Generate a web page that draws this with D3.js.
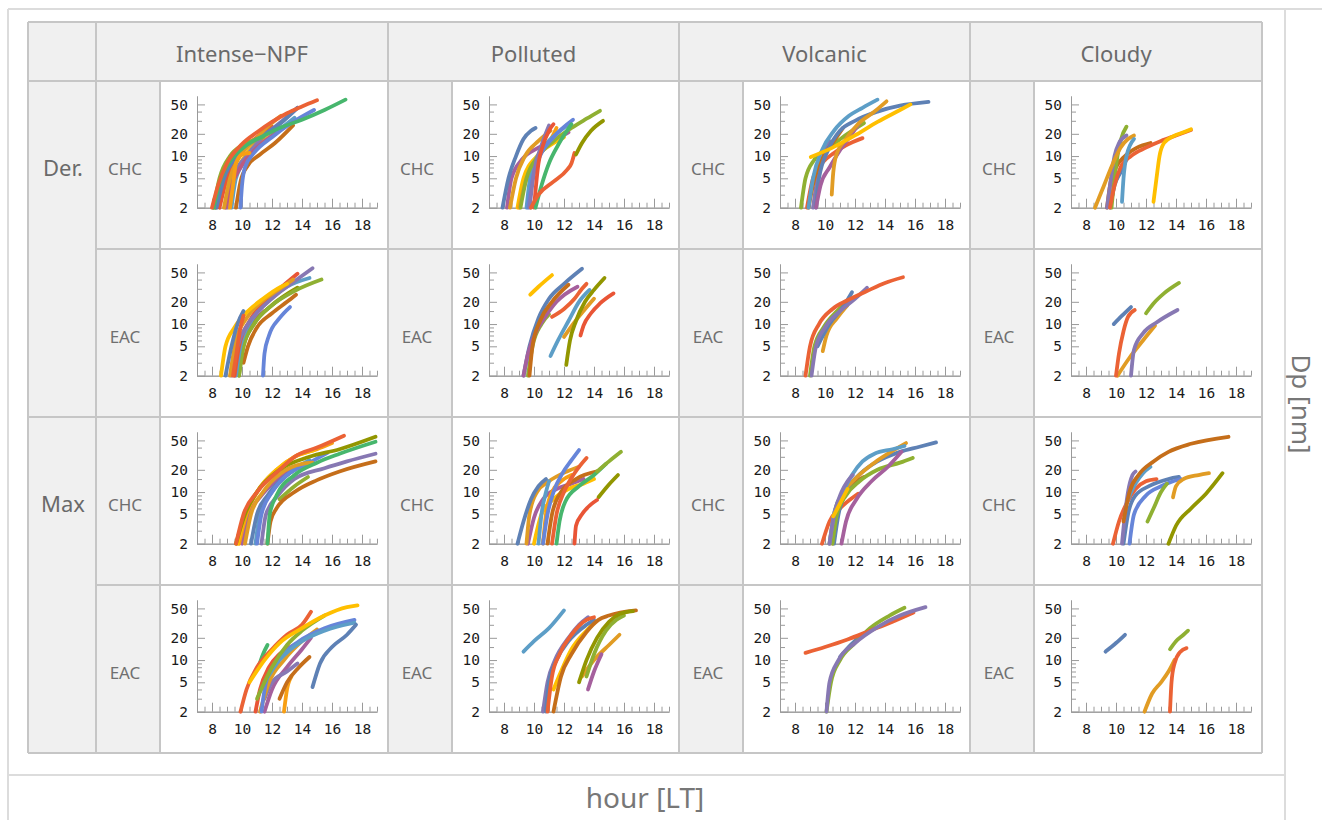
<!DOCTYPE html>
<html><head><meta charset="utf-8">
<script src="https://cdn.jsdelivr.net/npm/d3@7"></script>
<style>body{margin:0;background:#fff}svg{display:block}</style>
</head><body><svg id="c" width="1322" height="820"></svg>
<script>
// ---------- data ----------
const categories = ["Intense\u2212NPF","Polluted","Volcanic","Cloudy"];
const methods = ["Der.","Max"];
const sites = ["CHC","EAC"];
const hourTicks = [8,10,12,14,16,18];
const dpTicks = [2,5,10,20,50];
const dpMinor = [3,4,6,7,8,9,15,30,40];
const xLabel = "hour [LT]";
const yLabel = "Dp [nm]";
// each curve: ev = event/series number, p = [hour, Dp nm]
const intenseDerCHC = [
 {ev:10,p:[[8.2,2],[8.7,5],[9.5,10],[10.5,15],[11.5,20]]},
 {ev:11,p:[[8.5,2],[9,5],[9.8,10],[11,18],[12,25]]},
 {ev:8,p:[[9.1,2],[9.5,5],[10.2,10],[11.2,16],[12,22]]},
 {ev:7,p:[[9.3,2],[9.6,5],[10.3,9],[11.4,15],[12.4,22],[13.5,33]]},
 {ev:5,p:[[9.0,2],[9.4,5],[10.3,10],[11.5,19],[12.7,30],[13.7,45]]},
 {ev:14,p:[[8.9,2],[9.3,4],[9.9,7],[11,13],[12.2,20]]},
 {ev:6,p:[[9.6,2],[9.9,4.5],[10.4,7.5],[11.2,10.5],[12.2,15],[13.4,26]]},
 {ev:1,p:[[8.3,2],[8.8,5],[9.7,10],[11,17],[12.5,27],[13.7,45]]},
 {ev:12,p:[[9.9,2],[10.0,4],[10.2,7],[10.8,11],[12,18],[13.3,28],[14.8,42]]},
 {ev:2,p:[[8.8,2],[9.2,5],[9.8,9.5],[10.8,16],[11.8,26],[12.6,35]]},
 {ev:13,p:[[9.2,2],[9.4,4],[9.6,8],[10.0,10.5],[10.5,11]]},
 {ev:3,p:[[8.1,2],[8.5,5],[9.2,10],[10,14],[11,17],[11.4,18]]},
 {ev:15,p:[[8.1,2],[8.6,5],[9.3,9],[10.3,14],[11.5,19],[12.5,24],[14,31],[15.5,42],[16.9,58]]},
 {ev:4,p:[[8,2],[8.4,4],[9,8],[10,14.5],[11,21],[12,29],[13,38],[14,47],[15,57]]}
];
const pollutedDerCHC = [
 {ev:9,p:[[8.2,2],[8.5,5],[9.2,9],[10.3,13],[11.5,17],[12.3,21]]},
 {ev:2,p:[[8.4,2],[8.8,5],[9.4,10],[10.3,16],[11.1,22]]},
 {ev:8,p:[[8.9,2],[9.3,5],[10.2,10],[11.3,15],[12,18]]},
 {ev:13,p:[[9,2],[9.5,5],[10.3,10],[11.2,18],[11.5,24]]},
 {ev:7,p:[[9.5,2],[9.8,6],[10.5,12],[11.5,20],[12.2,26]]},
 {ev:3,p:[[9.1,2],[9.5,5],[10.3,10],[11.3,16],[12.5,24],[13.5,32],[14.4,41]]},
 {ev:12,p:[[9.6,2],[9.9,5],[10.4,10],[11.3,18],[12.6,31]]},
 {ev:5,p:[[9.7,2],[10,6],[10.5,14],[11,26]]},
 {ev:11,p:[[10,2],[10.3,8],[10.6,14],[11.0,22],[11.3,27]]},
 {ev:1,p:[[7.9,2],[8.3,5],[8.8,10],[9.3,17],[9.8,22],[10.1,24]]},
 {ev:15,p:[[10.1,2],[10.5,4],[11,8],[11.6,14],[12.5,27]]},
 {ev:4,p:[[9.8,2],[10.3,3],[11.3,4.5],[12.2,6.5],[12.5,8],[12.7,11]]},
 {ev:10,p:[[12.8,10.5],[13.2,15],[13.8,22],[14.6,30]]}
];
const volcanicDerCHC = [
 {ev:3,p:[[8.4,2],[8.7,5],[9.3,9],[10.3,13],[11.5,20],[12.6,28]]},
 {ev:5,p:[[9.2,2],[9.5,5],[9.9,10],[10.3,16]]},
 {ev:4,p:[[8.8,2],[9.2,5],[9.8,8],[10.6,11],[11.4,14],[12.5,17.5]]},
 {ev:6,p:[[8.9,2],[9.3,5],[9.9,10],[10.5,15],[11.2,24]]},
 {ev:7,p:[[8.9,2],[9.2,5],[9.8,12],[10.6,22],[11.6,35],[12.5,45],[13.5,58]]},
 {ev:1,p:[[9.4,2],[9.6,5],[10.2,12],[11,22],[12,30],[13.5,40],[15,48],[16.9,54]]},
 {ev:9,p:[[9.4,2],[9.7,4],[10.3,7],[11,12],[11.8,20],[12.3,28]]},
 {ev:2,p:[[10.45,3],[10.55,6],[10.8,11],[11.3,16],[12.2,27],[13.3,40],[14.1,55]]},
 {ev:8,p:[[9.05,9.7],[10.5,13],[12,19],[13.5,29],[15,42],[15.7,50]]}
];
const cloudyDerCHC = [
 {ev:1,p:[[9.6,2],[9.9,4],[10.3,6],[10.7,9]]},
 {ev:6,p:[[9.4,2],[9.6,4],[10,7],[10.6,10],[11.4,13],[12.3,15]]},
 {ev:3,p:[[9.7,2],[9.9,5],[10.1,10],[10.3,16],[10.7,25]]},
 {ev:5,p:[[9.4,2],[9.6,4],[9.9,10],[10.2,15],[10.7,19]]},
 {ev:2,p:[[8.6,2],[9.2,4],[9.8,8],[10.3,13],[10.8,17],[11.2,19]]},
 {ev:4,p:[[9.6,2],[9.9,4],[10.3,7],[11,10],[12,13],[13,16],[14,19],[15,22.5]]},
 {ev:7,p:[[10.4,2.4],[10.5,5],[10.7,10],[11.2,17]]},
 {ev:8,p:[[12.5,2.4],[12.7,5],[12.9,10],[13.2,15],[13.8,18.5],[14.5,21],[15,23]]}
];
const intenseDerEAC = [
 {ev:9,p:[[9.5,2],[9.9,5],[10.5,9],[11.5,15]]},
 {ev:10,p:[[9.8,2],[10.1,5],[10.8,10],[12,18],[13.7,31]]},
 {ev:6,p:[[10.1,3],[10.4,5],[11,9],[12,14],[13,20],[13.6,25]]},
 {ev:3,p:[[9.8,2],[10.1,5],[10.8,10],[12,18],[13.5,28],[15.3,40]]},
 {ev:7,p:[[9.6,2],[9.9,5],[10.6,11],[11.7,20],[13,32],[14.5,42]]},
 {ev:11,p:[[9.5,2],[9.8,5],[10.5,11],[11.5,20],[12.5,30],[13.7,48]]},
 {ev:5,p:[[9.3,2],[9.7,5],[10.4,10],[11.5,18],[12.5,27],[13.5,38],[14.7,57]]},
 {ev:2,p:[[9.2,2],[9.6,6],[10.3,12],[11.3,20],[12.3,28],[13.4,40]]},
 {ev:8,p:[[8.6,2],[8.9,5],[9.5,9],[10.4,15],[11.4,22],[12.6,32],[13,35]]},
 {ev:1,p:[[8.9,2],[9.3,5],[9.7,10],[10.1,15]]},
 {ev:4,p:[[9.4,2],[9.7,5],[9.9,9],[10.1,13]]},
 {ev:12,p:[[11.4,2],[11.5,4],[11.8,7],[12.5,12],[13.2,17]]}
];
const pollutedDerEAC = [
 {ev:3,p:[[9.6,2],[9.9,5],[10.5,10],[11,13.5]]},
 {ev:1,p:[[9.3,2],[9.7,5],[10.3,12],[11,22],[12,35],[13.2,56]]},
 {ev:9,p:[[9.3,2],[9.6,4],[10.3,9],[10.8,13],[11.5,20],[12.9,32]]},
 {ev:6,p:[[9.7,2],[9.9,5],[10.4,11],[11.2,20],[12.3,34]]},
 {ev:8,p:[[9.75,25],[10.3,32],[11.2,46]]},
 {ev:4,p:[[11.2,12.5],[12,16],[12.7,22],[13.2,30],[13.5,35]]},
 {ev:7,p:[[11.1,3.7],[11.6,6],[12.3,11],[13,20],[13.7,29]]},
 {ev:2,p:[[12,6.7],[12.6,10],[13.3,15],[14,22]]},
 {ev:10,p:[[12.15,2.8],[12.4,6],[12.8,11],[13.4,20],[14,29],[14.7,42]]},
 {ev:11,p:[[13.1,7],[13.3,9.5],[13.8,14],[14.4,19],[15.3,26]]}
];
const volcanicDerEAC = [
 {ev:3,p:[[9,2],[9.3,5],[9.9,9],[10.8,15],[11.6,21]]},
 {ev:2,p:[[9.85,4.3],[10.1,7],[10.8,12],[11.5,18]]},
 {ev:1,p:[[9.5,5],[10.3,10],[11.2,17],[11.8,27]]},
 {ev:5,p:[[9.1,2],[9.4,5],[10,9],[11,15],[12,22],[12.8,31]]},
 {ev:4,p:[[8.7,2],[9,5],[9.6,10],[10.5,16],[11.5,21],[12.8,28],[14,36],[15.2,43]]}
];
const cloudyDerEAC = [
 {ev:1,p:[[9.85,10],[10.4,13],[11.0,17]]},
 {ev:2,p:[[10.1,2],[10.9,3.5],[11.8,6],[12.6,9.5]]},
 {ev:4,p:[[10.0,2],[10.2,4],[10.5,8],[10.8,12.5],[11.25,15.5]]},
 {ev:5,p:[[11.0,2],[11.2,4.5],[11.8,7.5],[12.7,10.5],[14.1,15.5]]},
 {ev:3,p:[[12,14],[12.5,19],[13.2,26],[14.2,36]]}
];
const intenseMaxCHC = [
 {ev:9,p:[[10,2],[10.5,5],[11.3,9],[12.4,15],[13.5,22]]},
 {ev:7,p:[[10.9,2],[11.2,5],[12,10],[13.3,19],[14.5,27]]},
 {ev:1,p:[[10.6,2],[11,5],[11.7,9],[13,17],[14.5,25]]},
 {ev:12,p:[[11,2],[11.3,5],[12,10],[13,17],[14.5,25],[15.7,34]]},
 {ev:13,p:[[9.8,2],[10.3,5],[11,10],[12.3,20],[13.5,30],[15,38],[16,46]]},
 {ev:8,p:[[9.7,2],[10.2,5],[11,10],[12.3,20],[13.5,30],[14.8,37]]},
 {ev:2,p:[[10.2,2],[10.6,5],[11.4,10],[12.6,18],[14,24],[14.7,25]]},
 {ev:3,p:[[12.5,8],[13.5,12],[14.4,16]]},
 {ev:6,p:[[11.7,2],[11.9,4],[12.3,6],[13.5,10],[15,14.5],[16.5,19],[18.9,26]]},
 {ev:5,p:[[11.3,2],[11.6,5],[12.4,9],[13.5,15],[15.5,21],[17,26],[18.9,33]]},
 {ev:15,p:[[11.7,2],[11.85,5],[12.3,9],[13.5,17],[15,25],[16.5,33],[18.9,48]]},
 {ev:10,p:[[9.6,2],[10.2,5],[11,10],[12.5,20],[14.5,30],[16.5,38],[18.9,56]]},
 {ev:4,p:[[9.6,2],[10.1,5],[11,10],[12.5,20],[13.5,30],[15,40],[16.8,58]]}
];
const pollutedMaxCHC = [
 {ev:9,p:[[9.6,2],[10,4.5],[10.6,8],[11.5,11],[12.5,13],[13.3,15]]},
 {ev:2,p:[[9.5,2],[9.7,5],[10.2,10],[11,14],[12.2,19],[13,22]]},
 {ev:8,p:[[10,2],[10.5,5],[11.3,8],[12.3,11],[13.3,13],[14,15]]},
 {ev:7,p:[[10.3,2],[10.5,5],[10.8,10],[11,14]]},
 {ev:13,p:[[10.6,2],[10.8,5],[11.2,10],[11.8,14],[12.5,17]]},
 {ev:6,p:[[10.9,2],[11.2,5],[11.8,10],[12.8,15],[14.2,19]]},
 {ev:1,p:[[8.9,2],[9.3,4],[9.8,8],[10.3,12],[10.8,15]]},
 {ev:12,p:[[10.6,2],[10.9,5],[11.3,10],[11.9,18],[12.5,27],[13,37]]},
 {ev:4,p:[[11.2,2],[11.5,5],[12,10],[12.7,18],[13.5,29]]},
 {ev:15,p:[[11.5,2],[11.7,4],[12.1,7.5],[13,12],[14,17],[14.8,24]]},
 {ev:3,p:[[14.2,19],[15,26],[15.8,35]]},
 {ev:10,p:[[14.3,8.5],[14.9,12],[15.6,17]]},
 {ev:11,p:[[12.7,2],[12.8,3.5],[13.2,5],[13.8,6.8],[14.2,7.8]]}
];
const volcanicMaxCHC = [
 {ev:6,p:[[10.5,2],[10.8,5],[11.3,9],[12.1,14],[12.6,16]]},
 {ev:4,p:[[9.8,2],[10.3,4],[11,6],[11.7,8],[12.2,9.5]]},
 {ev:1,p:[[10.6,2],[10.9,5],[11.4,10],[12.4,18],[13.5,26],[15,35],[16.3,41],[17.4,47]]},
 {ev:3,p:[[10.5,2],[10.8,5],[11.4,9],[12.3,14],[13.5,20],[15,25],[15.85,29]]},
 {ev:2,p:[[10.3,2],[10.6,5],[11.1,9],[12,15],[13.3,25],[14.5,36],[15.4,46]]},
 {ev:7,p:[[10.3,2],[10.6,5],[11.2,10],[11.8,17],[12.5,26],[13.3,33],[14.5,38],[15.3,42]]},
 {ev:9,p:[[11.1,2],[11.4,4],[12.1,8],[13.1,14],[14.2,22],[15.1,35]]},
 {ev:5,p:[[10.3,2],[10.6,4.8],[11.1,10],[11.5,14],[11.85,17]]},
 {ev:8,p:[[10.55,4.7],[11.0,7],[11.5,11]]}
];
const cloudyMaxCHC = [
 {ev:4,p:[[9.8,2],[10.2,4],[10.7,7],[11.3,11],[12,14],[12.7,15]]},
 {ev:1,p:[[10.5,2],[10.8,5],[11.3,9],[12.2,12],[13.5,15],[14.2,16]]},
 {ev:12,p:[[10.9,2],[11.2,5],[12,9],[13,12],[14.3,15]]},
 {ev:7,p:[[10.8,8],[11.3,13],[11.8,18],[12.3,22]]},
 {ev:5,p:[[10.4,2],[10.6,5],[10.8,10],[11.1,17],[11.3,19]]},
 {ev:3,p:[[12.1,4],[12.5,6],[13,10],[13.4,13]]},
 {ev:10,p:[[13.5,2],[14,3.5],[15,6],[16,9.5],[17.1,18]]},
 {ev:2,p:[[13.8,8.5],[14,12],[14.5,15],[15.5,17],[16.2,18]]},
 {ev:6,p:[[10.5,4],[10.9,10],[11.5,17],[12.5,26],[13.5,35],[15,45],[17.5,56]]}
];
const intenseMaxEAC = [
 {ev:13,p:[[12.8,2],[13,4],[13.3,6]]},
 {ev:6,p:[[12.5,3],[13,5],[13.8,8],[14.5,11]]},
 {ev:11,p:[[10.9,2],[11.2,4],[11.8,8],[12.5,12],[13.5,16]]},
 {ev:9,p:[[11.5,2],[12,4],[13,8],[14,14],[14.6,20]]},
 {ev:5,p:[[11.5,3],[12,5],[13,7],[13.7,9]]},
 {ev:2,p:[[11.2,2],[11.8,5],[12.8,10],[14,18],[15,26]]},
 {ev:12,p:[[11.3,2],[11.6,5],[12.4,10],[13.8,18],[15.5,27],[17.5,35]]},
 {ev:7,p:[[11.5,5],[12.5,10],[14,18],[15.5,25],[17.5,32]]},
 {ev:3,p:[[11,3],[12,8],[13,16],[14,25],[15.5,40]]},
 {ev:15,p:[[11.1,8],[11.4,12],[11.7,16]]},
 {ev:4,p:[[9.9,2],[10.3,4],[11,8],[12,14],[13,22],[14,30],[14.6,45]]},
 {ev:8,p:[[10.5,5],[11.5,10],[12.5,17],[14,27],[15.5,40],[17,52],[17.7,55]]},
 {ev:1,p:[[14.7,4.3],[15.2,9],[16,15],[17,22],[17.6,30]]}
];
const pollutedMaxEAC = [
 {ev:7,p:[[9.3,13],[10,18],[11,27],[12,47]]},
 {ev:8,p:[[11.3,4],[11.8,7],[12.5,14],[13.5,25],[14,32]]},
 {ev:5,p:[[10.6,2],[10.9,5],[11.4,10],[12.3,20],[13,30],[13.6,38]]},
 {ev:1,p:[[10.8,2],[11,5],[11.5,10],[12.3,18],[13.5,30],[14,35]]},
 {ev:4,p:[[10.9,2],[11.2,6],[11.7,12],[12.5,22],[13.5,35],[14,38]]},
 {ev:6,p:[[11.3,2],[11.8,6],[12.5,12],[13.5,24],[14.3,35],[15,40],[16.8,47]]},
 {ev:2,p:[[13.2,6],[14,10],[15,16],[15.7,22]]},
 {ev:3,p:[[13.5,6],[14,12],[14.8,25],[15.5,35],[16,40]]},
 {ev:9,p:[[13.6,4],[14,7],[14.5,12]]},
 {ev:10,p:[[13,5],[13.5,10],[14.2,20],[15,33],[15.7,42],[16.6,46]]}
];
const volcanicMaxEAC = [
 {ev:1,p:[[11,11],[11.7,16],[12.5,22],[13.2,27]]},
 {ev:3,p:[[10.1,2],[10.4,5],[11,10],[12,17],[13,27],[14.3,40],[15.3,51]]},
 {ev:4,p:[[8.7,12.5],[10,15],[11.5,19],[13,25],[14.5,33],[15.9,44]]},
 {ev:5,p:[[10.1,2],[10.3,5],[10.9,10],[12,17],[13.5,28],[15,40],[16.7,52]]}
];
const cloudyMaxEAC = [
 {ev:1,p:[[9.3,13],[10,17],[10.6,22]]},
 {ev:2,p:[[11.9,2],[12.4,3.5],[13,5],[13.5,7],[13.9,10]]},
 {ev:3,p:[[13.6,14],[14,18],[14.5,22],[14.8,25]]},
 {ev:4,p:[[13.6,2],[13.7,5],[13.9,9],[14.3,13],[14.7,14.5]]}
];
const panelData = [
 [intenseDerCHC, pollutedDerCHC, volcanicDerCHC, cloudyDerCHC],
 [intenseDerEAC, pollutedDerEAC, volcanicDerEAC, cloudyDerEAC],
 [intenseMaxCHC, pollutedMaxCHC, volcanicMaxCHC, cloudyMaxCHC],
 [intenseMaxEAC, pollutedMaxEAC, volcanicMaxEAC, cloudyMaxEAC]
];
const palette = ["#5E81B5","#E19C24","#8FB032","#EB6235","#8778B3","#C56E1A","#5D9EC7","#FFBF00","#A5609D","#929600","#E95536","#6685D9","#F89F13","#BC5B80","#47B66D"];

// ---------- layout ----------
const svg = d3.select("#c");
const colLefts = [96,388,679,970], tableRight = 1262;
const rowTops = [81,249,417,585], rowH = 168, headTop = 22, tableBottom = 753;
const subW = 64;
const gridCol = "#c6c6c6", cellBg = "#f0f0f0";
const labelFont = "'Noto Sans','Open Sans',sans-serif";

// outer frame
const frame = svg.append("g").attr("stroke","#dcdcdc").attr("stroke-width",2);
frame.append("line").attr("x1",8).attr("x2",1322).attr("y1",9).attr("y2",9);
frame.append("line").attr("x1",8).attr("x2",8).attr("y1",9).attr("y2",820);
frame.append("line").attr("x1",1285).attr("x2",1285).attr("y1",9).attr("y2",820);
frame.append("line").attr("x1",8).attr("x2",1285).attr("y1",775).attr("y2",775);

// table backgrounds
svg.append("rect").attr("x",28).attr("y",headTop).attr("width",tableRight-28).attr("height",tableBottom-headTop).attr("fill",cellBg);
rowTops.forEach(t=>colLefts.forEach((l,i)=>{
  svg.append("rect").attr("x",l+subW).attr("y",t).attr("width",(colLefts[i+1]||tableRight)-l-subW).attr("height",rowH).attr("fill","#fff");
}));
// grid lines
const g = svg.append("g").attr("stroke",gridCol).attr("stroke-width",2).attr("fill","none");
[28,...colLefts,tableRight].forEach(x=>g.append("line").attr("x1",x).attr("x2",x).attr("y1",headTop).attr("y2",tableBottom));
colLefts.forEach(x=>g.append("line").attr("x1",x+subW).attr("x2",x+subW).attr("y1",rowTops[0]).attr("y2",tableBottom));
[headTop,rowTops[0],rowTops[2],tableBottom].forEach(y=>g.append("line").attr("x1",28).attr("x2",tableRight).attr("y1",y).attr("y2",y));
[rowTops[1],rowTops[3]].forEach(y=>g.append("line").attr("x1",colLefts[0]).attr("x2",tableRight).attr("y1",y).attr("y2",y));

// headers
categories.forEach((c,i)=>{
  const l = colLefts[i], r = colLefts[i+1]||tableRight;
  svg.append("text").attr("x",(l+r)/2).attr("y",(headTop+rowTops[0])/2+1).attr("text-anchor","middle")
    .attr("dominant-baseline","central").attr("font-family",labelFont).attr("font-size",22).attr("fill","#6a6a6a").text(c);
});
methods.forEach((m,i)=>{
  svg.append("text").attr("x",63).attr("y",rowTops[i*2]+rowH/2+2).attr("text-anchor","middle")
    .attr("dominant-baseline","central").attr("font-family",labelFont).attr("font-size",22).attr("fill","#6a6a6a").text(m);
});
rowTops.forEach((t,r)=>colLefts.forEach(l=>{
  svg.append("text").attr("x",l+29).attr("y",t+rowH/2+3).attr("text-anchor","middle")
    .attr("dominant-baseline","central").attr("font-family",labelFont).attr("font-size",17).attr("fill","#6f6f6f").text(sites[r%2]);
}));
svg.append("text").attr("x",645).attr("y",797).attr("text-anchor","middle").attr("dominant-baseline","central")
  .attr("font-family",labelFont).attr("font-size",28).attr("fill","#777").text(xLabel);
svg.append("text").attr("transform","translate(1302,404) rotate(90)").attr("text-anchor","middle").attr("dominant-baseline","central")
  .attr("font-family",labelFont).attr("font-size",26).attr("fill","#777").text(yLabel);

// panels
const halfHours = d3.range(7,19.01,0.5).filter(h=>!hourTicks.includes(h));
const line = d3.line().curve(d3.curveMonotoneX);
panelData.forEach((row,r)=>row.forEach((curves,c)=>{
  const L = colLefts[c]+subW, T = rowTops[r];
  const x = d3.scaleLinear().domain([7,19]).range([L+37,L+217]);
  const y = d3.scaleLog().domain([2,65]).range([T+126.7,T+15]);
  const p = svg.append("g");
  p.append("g").attr("transform",`translate(0,${y(2)})`)
    .call(d3.axisBottom(x).tickValues(hourTicks).tickSize(-9).tickSizeOuter(0).tickPadding(12).tickFormat(d3.format("d")));
  p.append("g").attr("transform",`translate(0,${y(2)})`)
    .call(d3.axisBottom(x).tickValues(halfHours).tickSize(-5).tickSizeOuter(0).tickFormat(""));
  p.append("g").attr("transform",`translate(${x(7)},0)`)
    .call(d3.axisLeft(y).tickValues(dpTicks).tickSize(-8).tickSizeOuter(0).tickPadding(9).tickFormat(d3.format("d")));
  p.append("g").attr("transform",`translate(${x(7)},0)`)
    .call(d3.axisLeft(y).tickValues(dpMinor).tickSize(-5).tickSizeOuter(0).tickFormat(""));
  p.selectAll(".domain").attr("stroke","#9a9a9a").attr("stroke-width",1);
  p.selectAll(".tick line").attr("stroke","#9a9a9a").attr("stroke-width",1);
  p.selectAll(".tick text").attr("font-family","'DejaVu Sans Mono',monospace").attr("font-size",14.5).attr("fill","#1a1a1a");
  p.append("g").selectAll("path").data(curves).join("path")
    .attr("d",d=>line(d.p.map(q=>[x(q[0]),y(q[1])])))
    .attr("fill","none").attr("stroke",d=>palette[(d.ev-1)%palette.length])
    .attr("stroke-width",3.8).attr("stroke-linecap","round").attr("stroke-linejoin","round");
}));
</script>
</body></html>
